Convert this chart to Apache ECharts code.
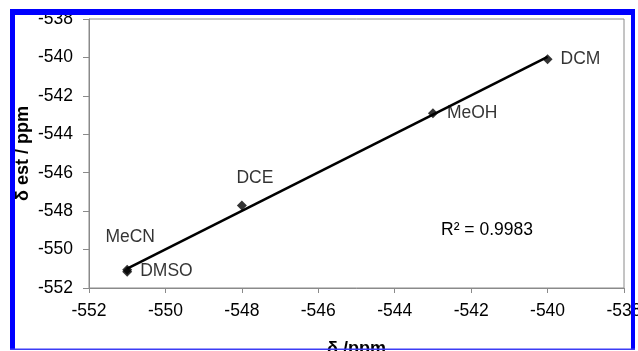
<!DOCTYPE html>
<html>
<head>
<meta charset="utf-8">
<script src="https://cdn.jsdelivr.net/npm/echarts@6/dist/echarts.min.js"></script>
<style>
  html, body { margin: 0; padding: 0; background: #ffffff; }
  #chart { width: 638px; height: 351px; }
</style>
</head>
<body>
<div id="chart"></div>
<script>
// Solvents and their measured vs. estimated chemical shifts (ppm)
const solvents = ['DCM', 'MeOH', 'DCE', 'MeCN', 'DMSO'];
const deltaMeasured = [-540, -543, -548, -551, -551];
const deltaEstimated = [-540.1, -542.9, -547.7, -551.05, -551.15];

// Axis ranges and tick step
const xRange = [-552, -538];
const yRange = [-552, -538];
const tickStep = 2;

const rSquaredText = 'R\u00B2 = 0.9983';

// Least-squares fit through the points, drawn across the data span
function linearFit(xs, ys) {
  const n = xs.length;
  const mx = xs.reduce((a, b) => a + b, 0) / n;
  const my = ys.reduce((a, b) => a + b, 0) / n;
  let sxx = 0, sxy = 0;
  for (let i = 0; i < n; i++) {
    sxx += (xs[i] - mx) * (xs[i] - mx);
    sxy += (xs[i] - mx) * (ys[i] - my);
  }
  const slope = sxy / sxx;
  return { slope, intercept: my - slope * mx };
}
const fit = linearFit(deltaMeasured, deltaEstimated);
const xMin = Math.min(...deltaMeasured);
const xMax = Math.max(...deltaMeasured);
const trendPoints = [
  [xMin, fit.slope * xMin + fit.intercept],
  [xMax, fit.slope * xMax + fit.intercept]
];

// Label placement for each solvent name
const labelPlacement = {
  DCM:  { position: 'right', distance: 8 },
  MeOH: { position: 'right', distance: 9 },
  DCE:  { position: 'top', distance: 13, offset: [13, 0] },
  MeCN: { position: 'top', distance: 19, offset: [3, 0] },
  DMSO: { position: 'right', distance: 8 }
};

const FONT = '"Liberation Sans", Arial, sans-serif';
const FS = 17.5;
const AXIS_GRAY = '#8a8a8a';

const points = solvents.map((name, i) => ({
  name: name,
  value: [deltaMeasured[i], deltaEstimated[i]],
  label: Object.assign({ show: true, formatter: name }, labelPlacement[name])
}));

const chart = echarts.init(document.getElementById('chart'), null, { renderer: 'canvas' });

chart.setOption({
  animation: false,
  backgroundColor: '#ffffff',
  grid: {
    left: 89, right: 14, top: 19, bottom: 63,
    show: true, borderColor: AXIS_GRAY, borderWidth: 1,
    containLabel: false,
    outerBoundsMode: 'none'
  },
  xAxis: {
    type: 'value',
    min: xRange[0], max: xRange[1], interval: tickStep,
    name: '\u03B4 /ppm',
    nameLocation: 'middle',
    nameGap: 52,
    nameMoveOverlap: false,
    nameTextStyle: { fontFamily: FONT, fontSize: 18, fontWeight: 'bold', color: '#000' },
    axisLine: { show: true, onZero: false, lineStyle: { color: AXIS_GRAY, width: 1 } },
    axisTick: { show: true, inside: false, length: 5, lineStyle: { color: AXIS_GRAY } },
    axisLabel: { fontFamily: FONT, fontSize: FS, color: '#000', margin: 14,
                 showMinLabel: true, showMaxLabel: true, hideOverlap: false },
    splitLine: { show: false }
  },
  yAxis: {
    type: 'value',
    min: yRange[0], max: yRange[1], interval: tickStep,
    name: '\u03B4 est / ppm',
    nameLocation: 'middle',
    nameGap: 57,
    nameRotate: 90,
    nameMoveOverlap: false,
    nameTextStyle: { fontFamily: FONT, fontSize: 18, fontWeight: 'bold', color: '#000' },
    axisLine: { show: true, onZero: false, lineStyle: { color: AXIS_GRAY, width: 1 } },
    axisTick: { show: true, inside: false, length: 6, lineStyle: { color: AXIS_GRAY } },
    axisLabel: { fontFamily: FONT, fontSize: FS, color: '#000', margin: 16,
                 showMinLabel: true, showMaxLabel: true, hideOverlap: false },
    splitLine: { show: false }
  },
  series: [
    {
      type: 'line',
      name: 'fit',
      data: trendPoints,
      showSymbol: false,
      symbol: 'none',
      lineStyle: { color: '#000', width: 2.6 },
      z: 2,
      silent: true
    },
    {
      type: 'scatter',
      name: 'solvents',
      data: points,
      symbol: 'diamond',
      symbolSize: 10,
      itemStyle: { color: '#000' },
      label: { fontFamily: FONT, fontSize: FS, color: '#000' },
      z: 3
    }
  ],
  graphic: [
    {
      type: 'text',
      left: 441,
      top: 221,
      z: 50,
      style: { text: rSquaredText, font: FS + 'px ' + FONT, fill: '#000' }
    },
    // blue frame around the figure
    { type: 'rect', z: 100, shape: { x: 10, y: 9, width: 5, height: 341 }, style: { fill: '#0000ff' } },
    { type: 'rect', z: 100, shape: { x: 10, y: 9, width: 625, height: 6 }, style: { fill: '#0000ff' } },
    { type: 'rect', z: 100, shape: { x: 631, y: 9, width: 4, height: 341 }, style: { fill: '#0000ff' } },
    { type: 'rect', z: 100, shape: { x: 10, y: 348.5, width: 625, height: 1.5 }, style: { fill: '#3c3cf5' } }
  ]
});
</script>
</body>
</html>
